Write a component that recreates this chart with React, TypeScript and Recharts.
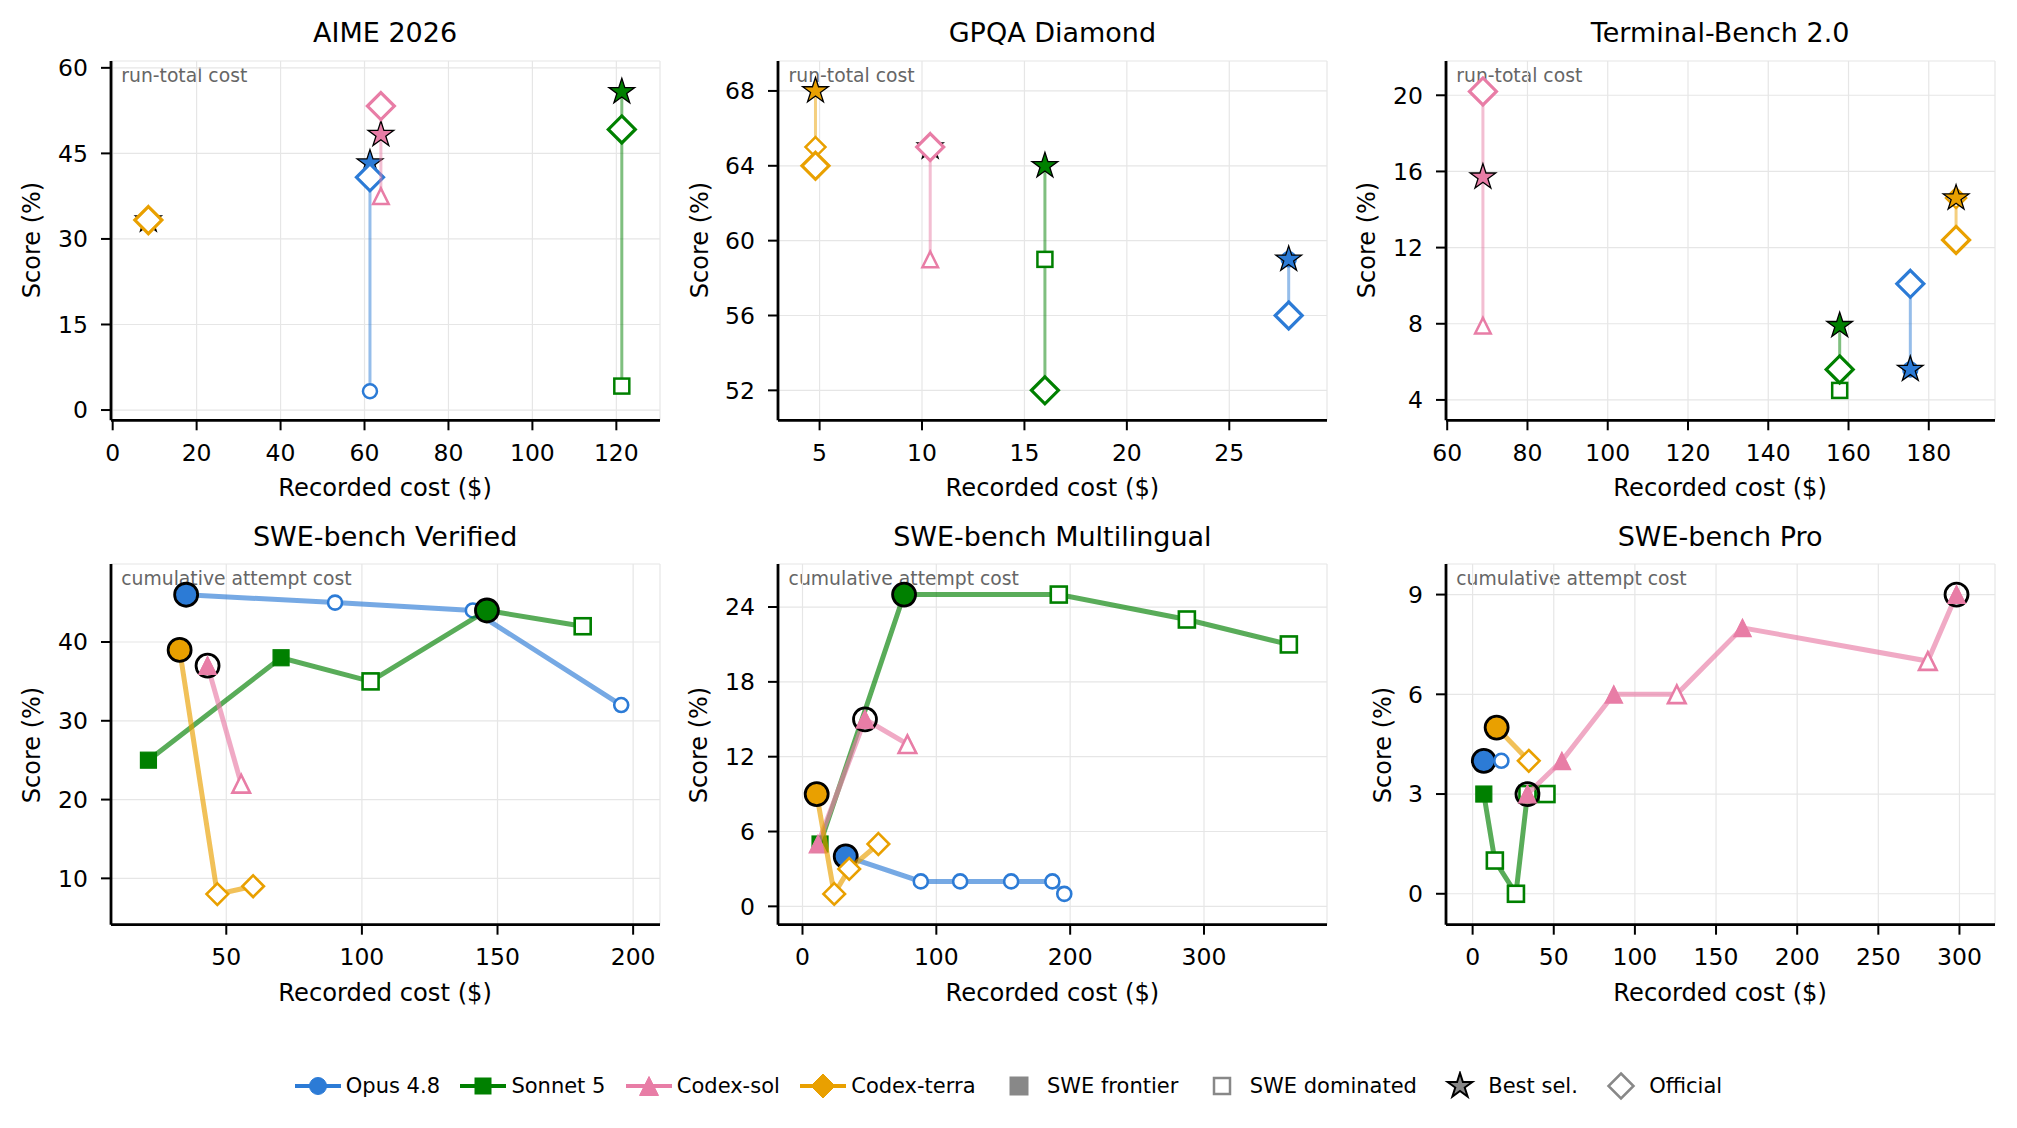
import type { ReactNode } from "react";
import { CartesianGrid, Scatter, ScatterChart, XAxis, YAxis } from "recharts";

const FONT = "'DejaVu Sans', sans-serif";

const BLUE = "#2c7bd6";
const GREEN = "#008000";
const PINK = "#e87da6";
const ORANGE = "#e9a000";
const GREY = "#888";

const MODELS = ["Opus 4.8", "Sonnet 5", "Codex-sol", "Codex-terra"];
const MODEL_COLORS = [BLUE, GREEN, PINK, ORANGE];
const MODEL_SHAPES: Shape[] = ["circle", "square", "triangle", "diamond"];
// fill of the black selection ring on cumulative panels
const RING_FILLS = [BLUE, GREEN, "none", ORANGE];

// run-total panels, one value per model (order of MODELS)
const AIME_COST = [61.3, 121.3, 63.9, 8.5];
const AIME_RUN = [3.3, 4.2, 37.5, 33.3];
const AIME_BEST = [43.3, 55.8, 48.3, 33.3];
const AIME_OFFICIAL = [40.8, 49.2, 53.3, 33.3];
const AIME_X_TICKS = [0, 20, 40, 60, 80, 100, 120];
const AIME_Y_TICKS = [0, 15, 30, 45, 60];

const GPQA_COST = [27.9, 16.0, 10.4, 4.8];
const GPQA_RUN = [59, 59, 59, 65];
const GPQA_BEST = [59, 64, 65, 68];
const GPQA_OFFICIAL = [56, 52, 65, 64];
const GPQA_X_TICKS = [5, 10, 15, 20, 25];
const GPQA_Y_TICKS = [52, 56, 60, 64, 68];

const TB_COST = [175.4, 157.8, 68.9, 186.8];
const TB_RUN = [5.6, 4.5, 7.9, 14.6];
const TB_BEST = [5.6, 7.9, 15.7, 14.6];
const TB_OFFICIAL = [10.1, 5.6, 20.2, 12.4];
const TB_X_TICKS = [60, 80, 100, 120, 140, 160, 180];
const TB_Y_TICKS = [4, 8, 12, 16, 20];

// cumulative-attempt panels: [cost, score, status] ; f = frontier, d = dominated, b = best selection
type Attempt = [number, number, "f" | "d" | "b"];

const VER_OPUS: Attempt[] = [[35.2, 46, "b"], [90.1, 45, "d"], [140.9, 44, "d"], [195.6, 32, "d"]];
const VER_SONNET: Attempt[] = [[21.3, 25, "f"], [70.2, 38, "f"], [103.2, 35, "d"], [146.1, 44, "b"], [181.4, 42, "d"]];
const VER_SOL: Attempt[] = [[43.1, 37, "b"], [55.5, 22, "d"]];
const VER_TERRA: Attempt[] = [[32.8, 39, "b"], [46.7, 8, "d"], [59.9, 9, "d"]];
const VER_X_TICKS = [50, 100, 150, 200];
const VER_Y_TICKS = [10, 20, 30, 40];

const MULTI_OPUS: Attempt[] = [[32.3, 4, "b"], [88.4, 2, "d"], [117.8, 2, "d"], [155.9, 2, "d"], [186.7, 2, "d"], [195.6, 1, "d"]];
const MULTI_SONNET: Attempt[] = [[13.1, 5, "f"], [75.9, 25, "b"], [191.5, 25, "d"], [287.2, 23, "d"], [363.4, 21, "d"]];
const MULTI_SOL: Attempt[] = [[11.5, 5, "f"], [46.7, 15, "b"], [78.4, 13, "d"]];
const MULTI_TERRA: Attempt[] = [[10.6, 9, "b"], [23.7, 1, "d"], [34.9, 3, "d"], [56.7, 5, "d"]];
const MULTI_X_TICKS = [0, 100, 200, 300];
const MULTI_Y_TICKS = [0, 6, 12, 18, 24];

const PRO_OPUS: Attempt[] = [[6.9, 4, "b"], [17.7, 4, "d"]];
const PRO_SONNET: Attempt[] = [[6.9, 3, "f"], [13.7, 1, "d"], [26.7, 0, "d"], [33.8, 3, "d"], [45.5, 3, "d"]];
const PRO_SOL: Attempt[] = [[33.8, 3, "b"], [55.0, 4, "f"], [87.0, 6, "f"], [125.8, 6, "d"], [166.3, 8, "f"], [280.5, 7, "d"], [298.2, 9, "b"]];
const PRO_TERRA: Attempt[] = [[14.8, 5, "b"], [34.6, 4, "d"]];
const PRO_X_TICKS = [0, 50, 100, 150, 200, 250, 300];
const PRO_Y_TICKS = [0, 3, 6, 9];

// layout of the 2x3 grid (plot-area rectangles in page pixels)
const COL_X = [110.6, 777.9, 1445.6];
const ROW_Y = [60.7, 564.3];
const ROW_H = [359.3, 360.7];
const PLOT_W = 549;
const Y_AXIS_W = 100;
const X_AXIS_H = 90;
const TOP_PAD = 60;
const RIGHT_PAD = 20;

type Shape = "circle" | "square" | "triangle" | "diamond" | "star";

function glyph(shape: Shape, cx: number, cy: number, r: number, fill: string, stroke: string, sw: number) {
  const common = { fill, stroke, strokeWidth: sw, strokeLinejoin: "miter" as const };
  switch (shape) {
    case "circle":
      return <circle cx={cx} cy={cy} r={r} {...common} />;
    case "square":
      return <rect x={cx - r} y={cy - r} width={2 * r} height={2 * r} {...common} />;
    case "triangle":
      return <polygon points={`${cx},${cy - r} ${cx - r},${cy + r} ${cx + r},${cy + r}`} {...common} />;
    case "diamond":
      return <polygon points={`${cx},${cy - r} ${cx + r},${cy} ${cx},${cy + r} ${cx - r},${cy}`} {...common} />;
    default: {
      const pts: string[] = [];
      for (let i = 0; i < 10; i++) {
        const a = -Math.PI / 2 + (i * Math.PI) / 5;
        const rr = i % 2 ? r * 0.382 : r;
        pts.push(`${cx + rr * Math.cos(a)},${cy + rr * Math.sin(a)}`);
      }
      return <polygon points={pts.join(" ")} {...common} />;
    }
  }
}

const RUN_R: Record<string, number> = { circle: 7, square: 7.5, triangle: 7.8, diamond: 10 };
const ATT_R: Record<string, number> = { circle: 7, square: 8, triangle: 8.8, diamond: 10.8 };

function runTotalSeries(cost: number[], run: number[], best: number[], official: number[]) {
  return MODELS.flatMap((m, i) => {
    const c = MODEL_COLORS[i];
    const vals = [run[i], best[i], official[i]];
    const span = [
      { x: cost[i], y: Math.min(...vals) },
      { x: cost[i], y: Math.max(...vals) },
    ];
    const shape = MODEL_SHAPES[i];
    return [
      <Scatter
        key={`${m}-span`}
        data={span}
        line={{ stroke: c, strokeWidth: 3, strokeOpacity: 0.5 }}
        shape={() => <g />}
        isAnimationActive={false}
      />,
      <Scatter
        key={`${m}-run`}
        data={[{ x: cost[i], y: run[i] }]}
        shape={(p: any) => glyph(shape, p.cx, p.cy, RUN_R[shape], "#fff", c, 2.5)}
        isAnimationActive={false}
      />,
      <Scatter
        key={`${m}-best`}
        data={[{ x: cost[i], y: best[i] }]}
        shape={(p: any) => glyph("star", p.cx, p.cy, 13.5, c, "#000", 1.3)}
        isAnimationActive={false}
      />,
      <Scatter
        key={`${m}-official`}
        data={[{ x: cost[i], y: official[i] }]}
        shape={(p: any) => glyph("diamond", p.cx, p.cy, 13.5, "#fff", c, 3.2)}
        isAnimationActive={false}
      />,
    ];
  });
}

function attemptSeries(lists: Attempt[][]) {
  return lists.map((pts, i) => {
    const c = MODEL_COLORS[i];
    const shape = MODEL_SHAPES[i];
    const r = ATT_R[shape];
    return (
      <Scatter
        key={MODELS[i]}
        data={pts.map(([x, y, k]) => ({ x, y, k }))}
        line={{ stroke: c, strokeWidth: 5, strokeOpacity: 0.65 }}
        shape={(p: any) => {
          const k = p.payload?.k;
          if (k === "d") return glyph(shape, p.cx, p.cy, r, "#fff", c, 2.6);
          const filled = glyph(shape, p.cx, p.cy, r, c, c, 1.2);
          if (k === "f") return filled;
          return (
            <g>
              {filled}
              <circle cx={p.cx} cy={p.cy} r={11.5} fill={RING_FILLS[i]} stroke="#000" strokeWidth={2.8} />
              {RING_FILLS[i] === "none" ? filled : null}
            </g>
          );
        }}
        isAnimationActive={false}
      />
    );
  });
}

type PanelProps = {
  col: number;
  row: number;
  title: string;
  note: string;
  xDomain: [number, number];
  xTicks: number[];
  yDomain: [number, number];
  yTicks: number[];
  yLabelGap: number;
  children: ReactNode;
};

const tickStyle = { fill: "#000", fontSize: 23.5, fontFamily: FONT };

function Panel({ col, row, title, note, xDomain, xTicks, yDomain, yTicks, yLabelGap, children }: PanelProps) {
  const left = COL_X[col];
  const top = ROW_Y[row];
  const h = ROW_H[row];
  return (
    <>
      <div
        style={{
          position: "absolute",
          left,
          top: top - 28 - 13.5,
          width: PLOT_W,
          textAlign: "center",
          fontSize: 27,
          lineHeight: "27px",
          whiteSpace: "nowrap",
        }}
      >
        {title}
      </div>
      <div
        style={{
          position: "absolute",
          left: left + 10.7,
          top: top + 15.3 - 9.4,
          fontSize: 18.75,
          lineHeight: "18.75px",
          color: "#666",
          whiteSpace: "nowrap",
        }}
      >
        {note}
      </div>
      <div style={{ position: "absolute", left: left - Y_AXIS_W, top: top - TOP_PAD }}>
        <ScatterChart
          width={Y_AXIS_W + PLOT_W + RIGHT_PAD}
          height={TOP_PAD + h + X_AXIS_H}
          margin={{ top: TOP_PAD, right: RIGHT_PAD, bottom: 0, left: 0 }}
        >
          <CartesianGrid stroke="#e6e6e6" strokeWidth={1.2} />
          <XAxis
            type="number"
            dataKey="x"
            domain={xDomain}
            ticks={xTicks}
            allowDataOverflow
            interval={0}
            height={X_AXIS_H}
            axisLine={{ stroke: "#000", strokeWidth: 2.8 }}
            tickLine={{ stroke: "#000", strokeWidth: 2 }}
            tickSize={10}
            tickMargin={14}
            tick={tickStyle}
          />
          <YAxis
            type="number"
            dataKey="y"
            domain={yDomain}
            ticks={yTicks}
            allowDataOverflow
            interval={0}
            width={Y_AXIS_W}
            axisLine={{ stroke: "#000", strokeWidth: 2.8 }}
            tickLine={{ stroke: "#000", strokeWidth: 2 }}
            tickSize={10}
            tickMargin={13}
            tick={tickStyle}
          />
          {children}
        </ScatterChart>
      </div>
      <div
        style={{
          position: "absolute",
          left: left - yLabelGap,
          top: top + h / 2,
          transform: "translate(-50%, -50%) rotate(-90deg)",
          fontSize: 24,
          lineHeight: "24px",
          whiteSpace: "nowrap",
        }}
      >
        Score (%)
      </div>
      <div
        style={{
          position: "absolute",
          left,
          top: top + h + 67.5 - 12,
          width: PLOT_W,
          textAlign: "center",
          fontSize: 24.2,
          lineHeight: "24px",
          whiteSpace: "nowrap",
        }}
      >
        Recorded cost ($)
      </div>
    </>
  );
}

function LegendKey({ label, children }: { label: string; children: ReactNode }) {
  return (
    <div style={{ display: "flex", alignItems: "center" }}>
      <svg width={46} height={30}>
        {children}
      </svg>
      <span style={{ marginLeft: 5, fontSize: 21, lineHeight: "21px", whiteSpace: "nowrap" }}>{label}</span>
    </div>
  );
}

const LEGEND_R: Record<string, number> = { circle: 8.5, square: 8, triangle: 9.5, diamond: 12 };

function FigureLegend() {
  return (
    <div
      style={{
        position: "absolute",
        left: 0,
        top: 1086 - 15,
        width: 2017,
        display: "flex",
        justifyContent: "center",
        gap: 20.4,
      }}
    >
      {MODELS.map((m, i) => (
        <LegendKey key={m} label={m}>
          <line x1={0} x2={46} y1={15} y2={15} stroke={MODEL_COLORS[i]} strokeWidth={4} />
          {glyph(MODEL_SHAPES[i], 23, 15, LEGEND_R[MODEL_SHAPES[i]], MODEL_COLORS[i], MODEL_COLORS[i], 1)}
        </LegendKey>
      ))}
      <LegendKey label="SWE frontier">{glyph("square", 23, 15, 9, GREY, GREY, 1)}</LegendKey>
      <LegendKey label="SWE dominated">{glyph("square", 23, 15, 8, "#fff", GREY, 2.5)}</LegendKey>
      <LegendKey label="Best sel.">{glyph("star", 23, 15, 13, GREY, "#000", 2)}</LegendKey>
      <LegendKey label="Official">{glyph("diamond", 23, 15, 12.5, "#fff", GREY, 2.5)}</LegendKey>
    </div>
  );
}

export default function App() {
  return (
    <div
      style={{
        position: "relative",
        width: 2017,
        height: 1128,
        margin: -8,
        background: "#fff",
        fontFamily: FONT,
        color: "#000",
        overflow: "hidden",
      }}
    >
      <Panel col={0} row={0} title="AIME 2026" note="run-total cost" xDomain={[-0.4, 130.4]} xTicks={AIME_X_TICKS} yDomain={[-1.8, 61.2]} yTicks={AIME_Y_TICKS} yLabelGap={78.6}>
        {runTotalSeries(AIME_COST, AIME_RUN, AIME_BEST, AIME_OFFICIAL)}
      </Panel>
      <Panel col={1} row={0} title="GPQA Diamond" note="run-total cost" xDomain={[2.97, 29.77]} xTicks={GPQA_X_TICKS} yDomain={[50.4, 69.6]} yTicks={GPQA_Y_TICKS} yLabelGap={78.1}>
        {runTotalSeries(GPQA_COST, GPQA_RUN, GPQA_BEST, GPQA_OFFICIAL)}
      </Panel>
      <Panel col={2} row={0} title="Terminal-Bench 2.0" note="run-total cost" xDomain={[59.7, 196.5]} xTicks={TB_X_TICKS} yDomain={[2.93, 21.8]} yTicks={TB_Y_TICKS} yLabelGap={79}>
        {runTotalSeries(TB_COST, TB_RUN, TB_BEST, TB_OFFICIAL)}
      </Panel>
      <Panel col={0} row={1} title="SWE-bench Verified" note="cumulative attempt cost" xDomain={[7.5, 209.9]} xTicks={VER_X_TICKS} yDomain={[4.12, 49.9]} yTicks={VER_Y_TICKS} yLabelGap={78.6}>
        {attemptSeries([VER_OPUS, VER_SONNET, VER_SOL, VER_TERRA])}
      </Panel>
      <Panel col={1} row={1} title="SWE-bench Multilingual" note="cumulative attempt cost" xDomain={[-18.3, 391.9]} xTicks={MULTI_X_TICKS} yDomain={[-1.47, 27.45]} yTicks={MULTI_Y_TICKS} yLabelGap={79}>
        {attemptSeries([MULTI_OPUS, MULTI_SONNET, MULTI_SOL, MULTI_TERRA])}
      </Panel>
      <Panel col={2} row={1} title="SWE-bench Pro" note="cumulative attempt cost" xDomain={[-16.4, 321.9]} xTicks={PRO_X_TICKS} yDomain={[-0.93, 9.92]} yTicks={PRO_Y_TICKS} yLabelGap={63}>
        {attemptSeries([PRO_OPUS, PRO_SONNET, PRO_SOL, PRO_TERRA])}
      </Panel>
      <FigureLegend />
    </div>
  );
}
